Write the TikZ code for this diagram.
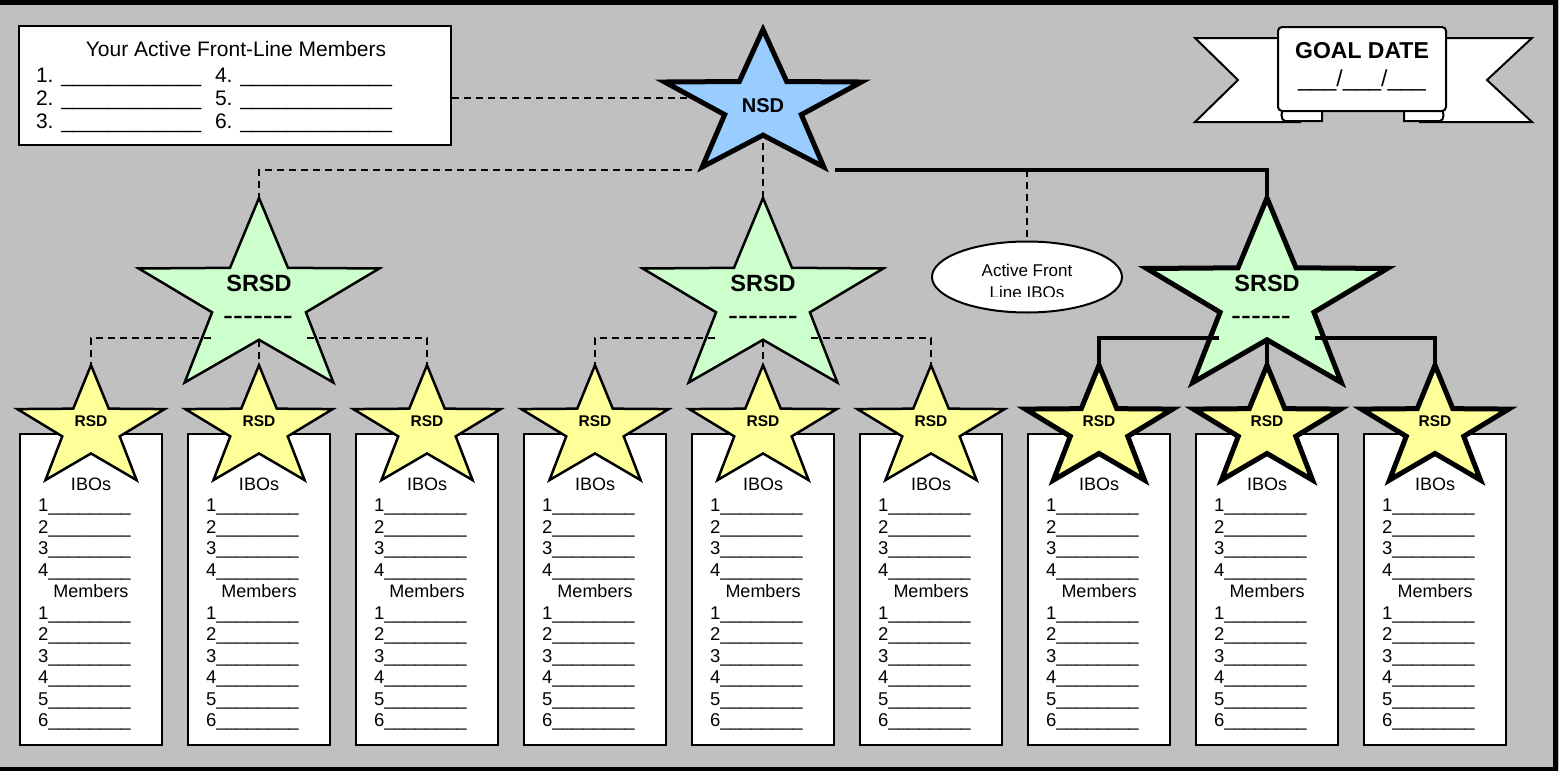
\documentclass[tikz,border=0pt]{standalone}
\usepackage{fontspec}
\setmainfont{Liberation Sans}
\usetikzlibrary{shapes.geometric}
\definecolor{bggray}{HTML}{C0C0C0}
\definecolor{nsdblue}{HTML}{99CCFF}
\definecolor{srsdgreen}{HTML}{CCFFCC}
\definecolor{rsdyellow}{HTML}{FFFF99}
\newcommand\fsz[1]{\fontsize{#1}{#1}\selectfont}
\ExplSyntaxOn
\cs_new:Npn \myrep #1#2 {\prg_replicate:nn{#1}{#2}}
\ExplSyntaxOff
% #1 style, #2 name, #3 cx, #4 cy, #5 R, #6 xscale
\newcommand\drawstar[6]{%
  \draw[#1] ({#3},{#4-#5}) \foreach \stpt in {1,...,9}{ -- ({#3+#6*#5*(1-0.61*mod(\stpt,2))*cos(90+36*\stpt)},{#4-#5*(1-0.61*mod(\stpt,2))*sin(90+36*\stpt)}) } -- cycle;
  \coordinate (#2-top) at ({#3},{#4-#5});
  \coordinate (#2-bot) at ({#3},{#4+0.39*#5});
}
\tikzset{
  thinline/.style={draw=black, line width=2.5pt, line join=miter},
  thickline/.style={draw=black, line width=5pt, line join=miter},
  colbox/.style={draw=black, fill=white, line width=2.5pt, minimum width=142, minimum height=311, inner sep=0},
  txt/.style={inner sep=0, outer sep=0, text=black},
  dashconn/.style={draw=black, line width=2pt, dash pattern=on 7pt off 5pt},
  thickconn/.style={draw=black, line width=4.5pt},
  banner/.style={draw=black, fill=white, line width=2pt, line join=miter},
}
\begin{document}
\begin{tikzpicture}[x=1pt,y=-1pt]
\useasboundingbox (0,0) rectangle (1559,771);
\fill[bggray] (0,0) rectangle (1559,771);
\draw[line width=5pt] (-10,2) rectangle (1555.5,769);

% column boxes
\foreach \k in {1,...,9}{
  \pgfmathsetmacro\cx{91+168*(\k-1)}
  \node[colbox] (col\k) at (\cx,589.5) {};
}

% front-line members box
\node[draw=black, fill=white, line width=2.5pt, minimum width=432, minimum height=119, inner sep=0] (fl) at (235,85.5) {};
\node[txt, anchor=base, font=\fsz{21}] (fltitle) at (236,56) {Your Active Front-Line Members};
\node[txt, anchor=base west, font=\fsz{21}] (fl1) at (36,82) {1. \myrep{12}{\_}};
\node[txt, anchor=base west, font=\fsz{21}] (fl2) at (36,105) {2. \myrep{12}{\_}};
\node[txt, anchor=base west, font=\fsz{21}] (fl3) at (36,128) {3. \myrep{12}{\_}};
\node[txt, anchor=base west, font=\fsz{21}] (fl4) at (215,82) {4. \myrep{13}{\_}};
\node[txt, anchor=base west, font=\fsz{21}] (fl5) at (215,105) {5. \myrep{13}{\_}};
\node[txt, anchor=base west, font=\fsz{21}] (fl6) at (215,128) {6. \myrep{13}{\_}};

% goal date banner
\draw[banner] (1195,38) -- (1300,38) -- (1300,122) -- (1195,122) -- (1238,80) -- cycle;
\draw[banner] (1532,38) -- (1420,38) -- (1420,122) -- (1532,122) -- (1487,80) -- cycle;
\draw[banner] (1322,104) -- (1322,121) -- (1285,121) to[out=180,in=180] (1285,109) -- cycle;
\draw[banner] (1404,104) -- (1404,121) -- (1440,121) to[out=0,in=0] (1440,109) -- cycle;
\draw[banner, rounded corners=4pt] (1278,111) -- (1278,27) -- (1446,27) -- (1446,111) -- cycle;
\node[txt, anchor=base, font=\fsz{23}\bfseries] (goal) at (1362,58) {GOAL DATE};
\node[txt, anchor=base, font=\fsz{23}] (gdate) at (1362,86) {\myrep{3}{\_}/\myrep{3}{\_}/\myrep{3}{\_}};

% ellipse
\node[ellipse, draw=black, fill=white, line width=2pt, minimum width=190, minimum height=71, inner sep=0] (afl) at (1027,277) {};
\node[txt, anchor=base, font=\fsz{17}] (afl1) at (1027,276) {Active Front};
\begin{scope}
  \clip (930,280) rectangle (1120,296);
  \node[txt, anchor=base, font=\fsz{17}] (afl2) at (1027,298) {Line IBOs};
\end{scope}

% stars
\drawstar{thickline, fill=nsdblue}{nsd}{763}{105.5}{76}{1.36}
\drawstar{thinline, fill=srsdgreen}{srsdA}{259}{300}{102}{1.24}
\drawstar{thinline, fill=srsdgreen}{srsdB}{763}{300}{102}{1.24}
\drawstar{thickline, fill=srsdgreen}{srsdC}{1267}{300}{102}{1.24}
\foreach \k in {1,...,6}{
  \pgfmathsetmacro\cx{91+168*(\k-1)}
  \drawstar{thinline, fill=rsdyellow}{rsd\k}{\cx}{428.7}{63.5}{1.22}
}
\foreach \k in {7,8,9}{
  \pgfmathsetmacro\cx{91+168*(\k-1)}
  \drawstar{thickline, fill=rsdyellow}{rsd\k}{\cx}{428.7}{63.5}{1.22}
}

% connection points
\coordinate (fl-e) at (452,98);
\coordinate (nsd-w) at (690,98);
\coordinate (nsd-bl) at (692,170);
\coordinate (nsd-br) at (835,170);
\coordinate (nsd-out) at (763,143);
\coordinate (afl-j) at (1027,170);
\coordinate (srsdA-l) at (211,338);
\coordinate (srsdA-r) at (307,338);
\coordinate (srsdB-l) at (715,338);
\coordinate (srsdB-r) at (811,338);
\coordinate (srsdC-l) at (1219,338);
\coordinate (srsdC-r) at (1315,338);

% connectors
\draw[dashconn] (fl-e) -- (nsd-w);
\draw[dashconn] (nsd-bl) -| (srsdA-top);
\draw[dashconn] (nsd-out) -- (srsdB-top);
\draw[thickconn] (nsd-br) -| (srsdC-top);
\draw[dashconn] (afl-j) -- (afl.north);
\draw[dashconn] (srsdA-l) -| (rsd1-top);
\draw[dashconn] (srsdA-bot) -- (rsd2-top);
\draw[dashconn] (srsdA-r) -| (rsd3-top);
\draw[dashconn] (srsdB-l) -| (rsd4-top);
\draw[dashconn] (srsdB-bot) -- (rsd5-top);
\draw[dashconn] (srsdB-r) -| (rsd6-top);
\draw[thickconn] (srsdC-l) -| (rsd7-top);
\draw[thickconn] (srsdC-bot) -- (rsd8-top);
\draw[thickconn] (srsdC-r) -| (rsd9-top);

% star labels
\node[txt, anchor=base, font=\fsz{20}\bfseries] (nsdlbl) at (763,112) {NSD};
\foreach \n/\x in {A/259,B/763,C/1267}{
  \node[txt, anchor=base, font=\fsz{23.5}\bfseries] (srsd\n lbl) at (\x,291.7) {SRSD};
}
\node[txt, anchor=base, font=\fsz{30}] (srsdAdash) at (258,325.5) {\myrep{7}{-{}}};
\node[txt, anchor=base, font=\fsz{30}] (srsdBdash) at (763,325.5) {\myrep{7}{-{}}};
\node[txt, anchor=base, font=\fsz{30}] (srsdCdash) at (1261,325.5) {\myrep{6}{-{}}};
\foreach \k in {1,...,9}{
  \pgfmathsetmacro\cx{91+168*(\k-1)}
  \node[txt, anchor=base, font=\fsz{15.5}\bfseries] (rsd\k lbl) at (\cx,426) {RSD};
  \node[txt, anchor=base, font=\fsz{18}] (ibo\k) at (\cx,490) {IBOs};
  \foreach \i in {1,...,4}{
    \node[txt, anchor=base west, font=\fsz{18.5}] (ibo\k-\i) at (\cx-53,{490+21.5*\i}) {\i\myrep{8}{\_}};
  }
  \node[txt, anchor=base, font=\fsz{18}] (mem\k) at (\cx,597.5) {Members};
  \foreach \i in {1,...,6}{
    \node[txt, anchor=base west, font=\fsz{18.5}] (mem\k-\i) at (\cx-53,{597.5+21.5*\i}) {\i\myrep{8}{\_}};
  }
}
\end{tikzpicture}
\end{document}
